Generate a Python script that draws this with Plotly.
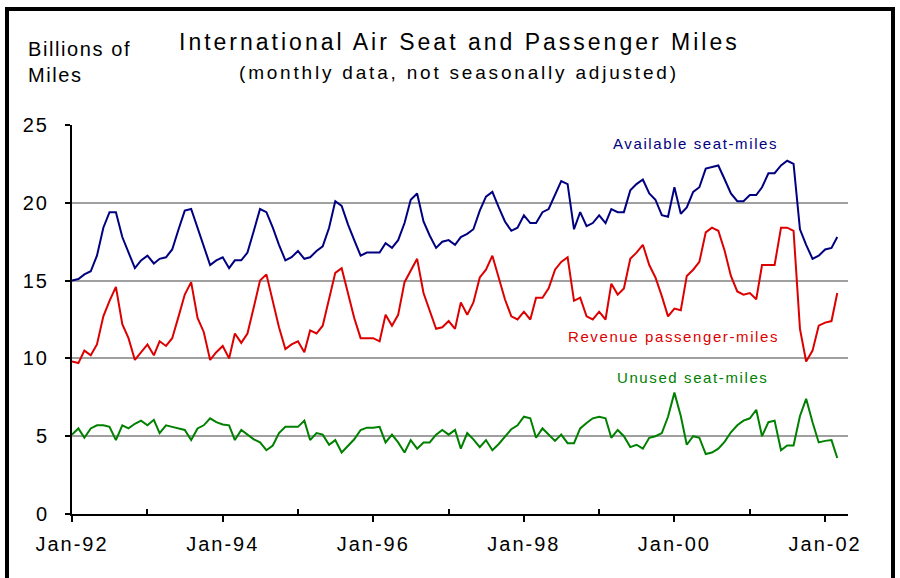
import plotly.graph_objects as go
import pandas as pd

# ---- data (billions of miles, monthly Jan-1992 .. Mar-2002) ----
start_month = "1992-01-01"
n_months = 123

available = [
    15.0, 15.1, 15.4, 15.6, 16.6, 18.4, 19.4, 19.4, 17.8, 16.8, 15.8, 16.3,
    16.6, 16.1, 16.4, 16.5, 17.0, 18.3, 19.5, 19.6, 18.4, 17.3, 16.0, 16.3,
    16.5, 15.8, 16.3, 16.3, 16.8, 18.2, 19.6, 19.4, 18.4, 17.3, 16.3, 16.5,
    16.9, 16.4, 16.5, 16.9, 17.2, 18.4, 20.1, 19.8, 18.6, 17.6, 16.6, 16.8,
    16.8, 16.8, 17.4, 17.1, 17.6, 18.7, 20.2, 20.6, 18.8, 17.9, 17.1, 17.5,
    17.6, 17.3, 17.8, 18.0, 18.3, 19.5, 20.4, 20.7, 19.7, 18.8, 18.2, 18.4,
    19.2, 18.7, 18.7, 19.4, 19.6, 20.5, 21.4, 21.2, 18.3, 19.4, 18.5, 18.7,
    19.2, 18.7, 19.6, 19.4, 19.4, 20.8, 21.2, 21.5, 20.6, 20.2, 19.2, 19.1,
    21.0, 19.3, 19.7, 20.7, 21.0, 22.2, 22.3, 22.4, 21.5, 20.6, 20.1, 20.1,
    20.5, 20.5, 21.0, 21.9, 21.9, 22.4, 22.7, 22.5, 18.3, 17.3, 16.4, 16.6,
    17.0, 17.1, 17.8,
]

revenue = [
    9.8, 9.7, 10.5, 10.2, 10.9, 12.7, 13.7, 14.6, 12.2, 11.3, 9.9, 10.4,
    10.9, 10.2, 11.1, 10.8, 11.3, 12.7, 14.1, 14.9, 12.6, 11.7, 9.9, 10.4,
    10.8, 10.0, 11.6, 11.0, 11.6, 13.3, 15.0, 15.4, 13.7, 12.0, 10.6, 10.9,
    11.1, 10.4, 11.8, 11.6, 12.1, 13.8, 15.5, 15.8, 14.1, 12.6, 11.3, 11.3,
    11.3, 11.1, 12.8, 12.1, 12.8, 14.9, 15.6, 16.4, 14.2, 13.0, 11.9, 12.0,
    12.4, 11.9, 13.6, 12.8, 13.6, 15.2, 15.7, 16.6, 15.2, 13.8, 12.7, 12.5,
    13.0, 12.5, 13.9, 13.9, 14.5, 15.7, 16.2, 16.5, 13.7, 13.9, 12.7, 12.5,
    13.0, 12.5, 14.8, 14.1, 14.5, 16.4, 16.8, 17.3, 16.0, 15.2, 14.0, 12.7,
    13.2, 13.1, 15.3, 15.7, 16.2, 18.1, 18.4, 18.2, 16.9, 15.3, 14.3, 14.1,
    14.2, 13.8, 16.0, 16.0, 16.0, 18.4, 18.4, 18.2, 11.9, 9.8, 10.5, 12.1,
    12.3, 12.4, 14.2,
]

unused = [
    5.1, 5.5, 4.9, 5.5, 5.7, 5.7, 5.6, 4.75, 5.7, 5.5, 5.8, 6.0,
    5.7, 6.05, 5.2, 5.7, 5.6, 5.5, 5.4, 4.75, 5.5, 5.7, 6.15, 5.9,
    5.75, 5.7, 4.75, 5.4, 5.1, 4.8, 4.6, 4.1, 4.4, 5.2, 5.6, 5.6,
    5.6, 6.0, 4.75, 5.2, 5.1, 4.45, 4.75, 3.95, 4.4, 4.8, 5.4, 5.55,
    5.55, 5.6, 4.6, 5.1, 4.6, 3.95, 4.75, 4.2, 4.6, 4.6, 5.1, 5.4,
    5.1, 5.4, 4.2, 5.2, 4.8, 4.3, 4.75, 4.1, 4.5, 4.95, 5.45, 5.7,
    6.25, 6.15, 4.9, 5.5, 5.1, 4.7, 5.1, 4.55, 4.55, 5.5, 5.85, 6.15,
    6.25, 6.15, 4.9, 5.4, 5.0, 4.3, 4.45, 4.2, 4.9, 5.0, 5.2, 6.25,
    7.8, 6.3, 4.45, 5.0, 4.9, 3.85, 3.95, 4.2, 4.65, 5.25, 5.7, 6.0,
    6.15, 6.7, 5.0, 5.9, 6.0, 4.1, 4.4, 4.4, 6.3, 7.4, 5.9, 4.6,
    4.7, 4.75, 3.6,
]

major_tick_dates = ["1992-01-01", "1994-01-01", "1996-01-01", "1998-01-01", "2000-01-01", "2002-01-01"]
major_tick_labels = ["Jan-92", "Jan-94", "Jan-96", "Jan-98", "Jan-00", "Jan-02"]
minor_tick_dates = ["1993-01-01", "1995-01-01", "1997-01-01", "1999-01-01", "2001-01-01"]
y_ticks = [0, 5, 10, 15, 20, 25]

months = pd.date_range(start_month, periods=n_months, freq="MS")

FONT = "Liberation Sans, Arial, sans-serif"


def spaced(text, px):
    return f'<span style="letter-spacing:{px}px">{text}</span>'


BLUE = "#000080"
RED = "#dd0000"
GREEN = "#008000"

fig = go.Figure()
fig.add_trace(go.Scatter(x=months, y=available, mode="lines",
                         line=dict(color=BLUE, width=2), name="Available seat-miles"))
fig.add_trace(go.Scatter(x=months, y=revenue, mode="lines",
                         line=dict(color=RED, width=2), name="Revenue passenger-miles"))
fig.add_trace(go.Scatter(x=months, y=unused, mode="lines",
                         line=dict(color=GREEN, width=2), name="Unused seat-miles"))

fig.update_layout(
    width=900, height=578, autosize=False,
    margin=dict(l=72, r=52, t=125, b=64),
    paper_bgcolor="white", plot_bgcolor="white",
    showlegend=False,
    font=dict(family=FONT, color="black", size=20),
)

fig.update_xaxes(
    type="date",
    range=["1992-01-01", "2002-04-22"],
    tickmode="array",
    tickvals=major_tick_dates,
    ticktext=[spaced(t, 2) for t in major_tick_labels],
    ticks="outside", ticklen=6, tickwidth=2, tickcolor="black",
    ticklabelstandoff=5,
    minor=dict(tickmode="array", tickvals=minor_tick_dates, ticks="inside",
               ticklen=5, tickwidth=2, tickcolor="black", showgrid=False),
    showgrid=False, zeroline=False,
    showline=True, linecolor="black", linewidth=2,
    tickfont=dict(family=FONT, size=20, color="black"),
)

fig.update_yaxes(
    range=[0, 25],
    tickmode="array", tickvals=y_ticks,
    ticktext=[spaced(str(v), 2) for v in y_ticks],
    ticks="outside", ticklen=5, tickwidth=2, tickcolor="black",
    ticklabelstandoff=12,
    showgrid=True, gridcolor="#a0a0a0", gridwidth=2,
    zeroline=False,
    showline=True, linecolor="black", linewidth=2,
    tickfont=dict(family=FONT, size=20, color="black"),
)

PW, PH = 776.0, 389.0  # plot area size in px
L, T = 72.0, 125.0


def px(x):
    return (x - L) / PW


def py(y):
    return (T + PH - y) / PH


annotations = [
    dict(text=spaced("International Air Seat and Passenger Miles", 3.0), x=px(459), y=py(42),
         font=dict(size=23, color="black")),
    dict(text=spaced("(monthly data, not seasonally adjusted)", 2.8), x=px(459), y=py(72),
         font=dict(size=19, color="black")),
    dict(text=spaced("Available seat-miles", 1.6), x=px(695), y=py(143),
         font=dict(size=15, color=BLUE)),
    dict(text=spaced("Revenue passenger-miles", 1.6), x=px(673), y=py(336),
         font=dict(size=15, color=RED)),
    dict(text=spaced("Unused seat-miles", 1.6), x=px(692), y=py(377),
         font=dict(size=15, color=GREEN)),
]
for a in annotations:
    a.update(xref="paper", yref="paper", showarrow=False, xanchor="center", yanchor="middle")
    fig.add_annotation(**a)

fig.add_annotation(text=spaced("Billions of", 1.6) + "<br>" + spaced("Miles", 1.6),
                   xref="paper", yref="paper", x=px(26), y=py(36),
                   xanchor="left", yanchor="top", align="left", showarrow=False,
                   font=dict(size=20, color="black"))

# outer frame
fig.add_shape(type="rect", xref="paper", yref="paper",
              x0=px(7), x1=px(893), y0=py(600), y1=py(9),
              line=dict(color="black", width=4), fillcolor="rgba(0,0,0,0)", layer="above")

fig.write_html("out.html",
               config={"displayModeBar": False},
               post_script="document.body.style.margin='0';document.body.style.overflow='hidden';")
